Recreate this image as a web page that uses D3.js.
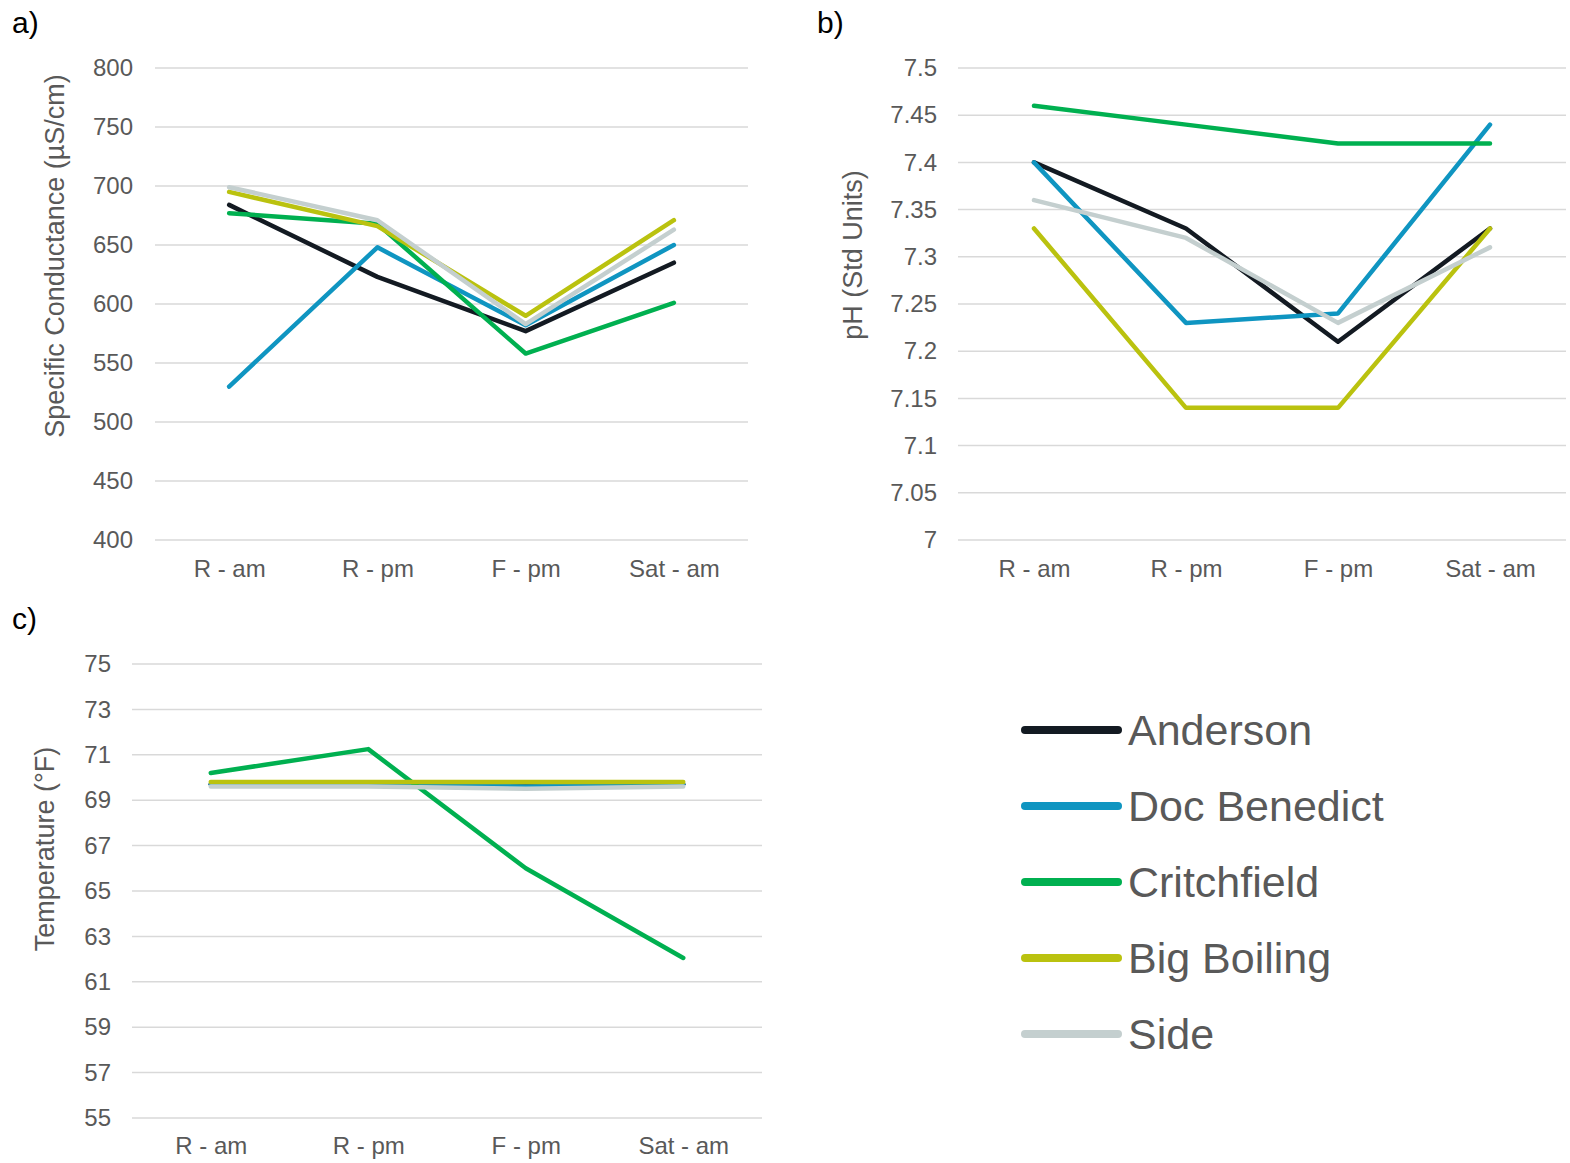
<!DOCTYPE html>
<html><head><meta charset="utf-8">
<script src="https://cdn.jsdelivr.net/npm/d3@7"></script>
<style>body{margin:0;background:#fff}svg{display:block}text{font-family:"Liberation Sans",Arial,sans-serif}</style>
</head><body><svg id="c" width="1570" height="1163"></svg>
<script>
const categories = ["R - am","R - pm","F - pm","Sat - am"];
const seriesNames = ["Anderson","Doc Benedict","Critchfield","Big Boiling","Side"];
const seriesColors = ["#131a22","#0f95c1","#00b050","#bac20f","#c4cfcf"];
// a) Specific Conductance
const condAnderson = [684,623,577,635];
const condDoc = [530,648,582,650];
const condCritch = [677,668,558,601];
const condBig = [695,666,590,671];
const condSide = [699,671,583,663];
const condTicks = [400,450,500,550,600,650,700,750,800];
// b) pH
const phAnderson = [7.40,7.33,7.21,7.33];
const phDoc = [7.40,7.23,7.24,7.44];
const phCritch = [7.46,7.44,7.42,7.42];
const phBig = [7.33,7.14,7.14,7.33];
const phSide = [7.36,7.32,7.23,7.31];
const phTicks = [7,7.05,7.1,7.15,7.2,7.25,7.3,7.35,7.4,7.45,7.5];
// c) Temperature
const tAnderson = [69.7,69.7,69.7,69.7];
const tDoc = [69.7,69.7,69.6,69.7];
const tCritch = [70.2,71.25,66.0,62.05];
const tBig = [69.8,69.8,69.8,69.8];
const tSide = [69.6,69.6,69.5,69.6];
const tTicks = [55,57,59,61,63,65,67,69,71,73,75];

const svg = d3.select("#c");

function panel(o){
  const g = svg.append("g");
  const x = d3.scalePoint().domain(categories).range([o.x0,o.x1]).padding(0.5);
  const y = d3.scaleLinear().domain([o.ticks[0],o.ticks[o.ticks.length-1]]).range([o.y1,o.y0]);
  g.selectAll("line.grid").data(o.ticks).join("line")
    .attr("x1",o.x0).attr("x2",o.x1).attr("y1",d=>y(d)).attr("y2",d=>y(d))
    .attr("stroke","#d9d9d9").attr("stroke-width",1.5);
  const ya = d3.axisLeft(y).tickValues(o.ticks).tickSize(0).tickPadding(0).tickFormat(d=>String(+d.toFixed(2)));
  const yg = g.append("g").attr("transform",`translate(${o.labelX},0)`).call(ya);
  yg.select(".domain").remove();
  yg.selectAll("text").attr("fill","#595959").attr("font-size",24).attr("font-family","Liberation Sans, Arial, sans-serif");
  const xa = d3.axisBottom(x).tickSize(0).tickPadding(0);
  const xg = g.append("g").attr("transform",`translate(0,${o.xLabelY})`).call(xa);
  xg.select(".domain").remove();
  xg.selectAll("text").attr("fill","#595959").attr("font-size",24).attr("font-family","Liberation Sans, Arial, sans-serif");
  const line = d3.line().x((d,i)=>x(categories[i])).y(d=>y(d));
  o.series.forEach((s,i)=>{
    g.append("path").attr("d",line(s)).attr("fill","none")
      .attr("stroke",seriesColors[i]).attr("stroke-width",4.5)
      .attr("stroke-linejoin","round").attr("stroke-linecap","round");
  });
  g.append("text").attr("transform",`translate(${o.titleX},${o.titleY}) rotate(-90)`)
    .attr("text-anchor","middle").attr("dominant-baseline","middle")
    .attr("fill","#595959").attr("font-size",27).text(o.title);
  g.append("text").attr("x",o.px).attr("y",o.py).attr("font-size",30).attr("fill","#000").text(o.plabel);
}

panel({x0:155,x1:748,y0:68,y1:540,ticks:condTicks,labelX:133,xLabelY:560,titleX:57,titleY:256,
  title:"Specific Conductance (µS/cm)",plabel:"a)",px:12,py:33,
  series:[condAnderson,condDoc,condCritch,condBig,condSide]});
panel({x0:958,x1:1566,y0:68,y1:540,ticks:phTicks,labelX:937,xLabelY:560,titleX:855,titleY:255,
  title:"pH (Std Units)",plabel:"b)",px:817,py:33,
  series:[phAnderson,phDoc,phCritch,phBig,phSide]});
panel({x0:132,x1:762,y0:664,y1:1118,ticks:tTicks,labelX:111,xLabelY:1137,titleX:47,titleY:849,
  title:"Temperature (°F)",plabel:"c)",px:12,py:629,
  series:[tAnderson,tDoc,tCritch,tBig,tSide]});

// legend
const lg = svg.append("g");
const legY = d3.scalePoint().domain(seriesNames).range([730,1034]);
seriesNames.forEach((n,i)=>{
  lg.append("line").attr("x1",1025).attr("x2",1118).attr("y1",legY(n)).attr("y2",legY(n))
    .attr("stroke",seriesColors[i]).attr("stroke-width",8).attr("stroke-linecap","round");
  lg.append("text").attr("x",1128).attr("y",legY(n)+15).attr("font-size",43)
    .attr("fill","#595959").text(n);
});
</script></body></html>
